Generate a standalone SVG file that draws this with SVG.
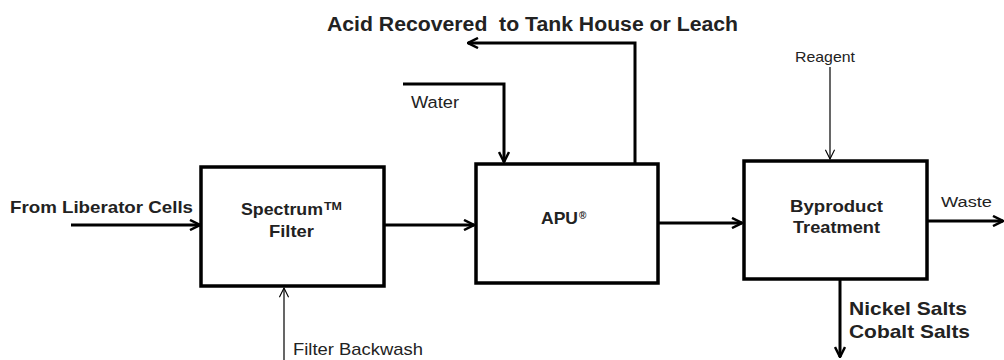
<svg xmlns="http://www.w3.org/2000/svg" width="1004" height="360" viewBox="0 0 1004 360">
<style>
.box{fill:#fff;stroke:#000;stroke-width:3.5}
.thick{fill:none;stroke:#000;stroke-width:3}
.thin{fill:none;stroke:#000;stroke-width:1.2}
.b{font-family:"Liberation Sans",Arial,sans-serif;font-weight:bold;fill:#222}
.r{font-family:"Liberation Sans",Arial,sans-serif;fill:#222}
</style>
<defs>
<marker id="ah" viewBox="0 0 12 12" refX="11" refY="6" markerWidth="12" markerHeight="12" markerUnits="userSpaceOnUse" orient="auto">
<path d="M1,1 L11,6 L1,11" fill="none" stroke="#000" stroke-width="2.5"/>
</marker>
<marker id="aht" viewBox="0 0 12 12" refX="11" refY="6" markerWidth="11" markerHeight="11" markerUnits="userSpaceOnUse" orient="auto">
<path d="M1,1 L11,6 L1,11" fill="none" stroke="#000" stroke-width="1.2"/>
</marker>
</defs>
<g id="connectors">
<line class="thick" x1="71" y1="225" x2="200" y2="225" marker-end="url(#ah)"/>
<line class="thick" x1="384" y1="225" x2="474" y2="225" marker-end="url(#ah)"/>
<line class="thin" x1="284" y1="360" x2="284" y2="288" marker-end="url(#aht)"/>
<polyline class="thick" points="403,84 504,84 504,162" marker-end="url(#ah)"/>
<polyline class="thick" points="635,164 635,43 468,43" marker-end="url(#ah)"/>
<line class="thick" x1="658" y1="223" x2="742" y2="223" marker-end="url(#ah)"/>
<line class="thin" x1="830" y1="67" x2="830" y2="159" marker-end="url(#aht)"/>
<line class="thick" x1="927" y1="221" x2="1003" y2="221" marker-end="url(#ah)"/>
<line class="thick" x1="840" y1="279" x2="840" y2="357" marker-end="url(#ah)"/>
</g>
<g id="spectrum">
<rect class="box" x="201" y="167" width="183" height="119"/>
<text class="b" x="241" y="215" font-size="16.5" textLength="82" lengthAdjust="spacingAndGlyphs">Spectrum</text>
<text class="b" x="324" y="210" font-size="10" textLength="18" lengthAdjust="spacingAndGlyphs">TM</text>
<text class="b" x="269" y="237" font-size="16.5" textLength="45" lengthAdjust="spacingAndGlyphs">Filter</text>
</g>
<g id="apu">
<rect class="box" x="476" y="164" width="182" height="119"/>
<text class="b" x="541" y="224" font-size="16.5" textLength="37" lengthAdjust="spacingAndGlyphs">APU</text>
<text class="b" x="579" y="219" font-size="10">®</text>
</g>
<g id="byproduct">
<rect class="box" x="744" y="161" width="183" height="118"/>
<text class="b" x="790" y="212" font-size="16.5" textLength="93" lengthAdjust="spacingAndGlyphs">Byproduct</text>
<text class="b" x="793" y="233" font-size="16.5" textLength="87" lengthAdjust="spacingAndGlyphs">Treatment</text>
</g>
<g id="labels">
<text class="b" x="10" y="213" font-size="17" textLength="183" lengthAdjust="spacingAndGlyphs">From Liberator Cells</text>
<text class="b" x="327" y="31" font-size="19.5" textLength="411" lengthAdjust="spacingAndGlyphs" xml:space="preserve">Acid Recovered  to Tank House or Leach</text>
<text class="r" x="411" y="108" font-size="16.8" textLength="48" lengthAdjust="spacingAndGlyphs">Water</text>
<text class="r" x="795" y="62" font-size="15" textLength="60" lengthAdjust="spacingAndGlyphs">Reagent</text>
<text class="r" x="941" y="207" font-size="15.4" textLength="51" lengthAdjust="spacingAndGlyphs">Waste</text>
<text class="r" x="293" y="355" font-size="17" textLength="130" lengthAdjust="spacingAndGlyphs">Filter Backwash</text>
<text class="b" x="849" y="315" font-size="18.6" textLength="118" lengthAdjust="spacingAndGlyphs">Nickel Salts</text>
<text class="b" x="849" y="338" font-size="18.6" textLength="121" lengthAdjust="spacingAndGlyphs">Cobalt Salts</text>
</g>
</svg>
